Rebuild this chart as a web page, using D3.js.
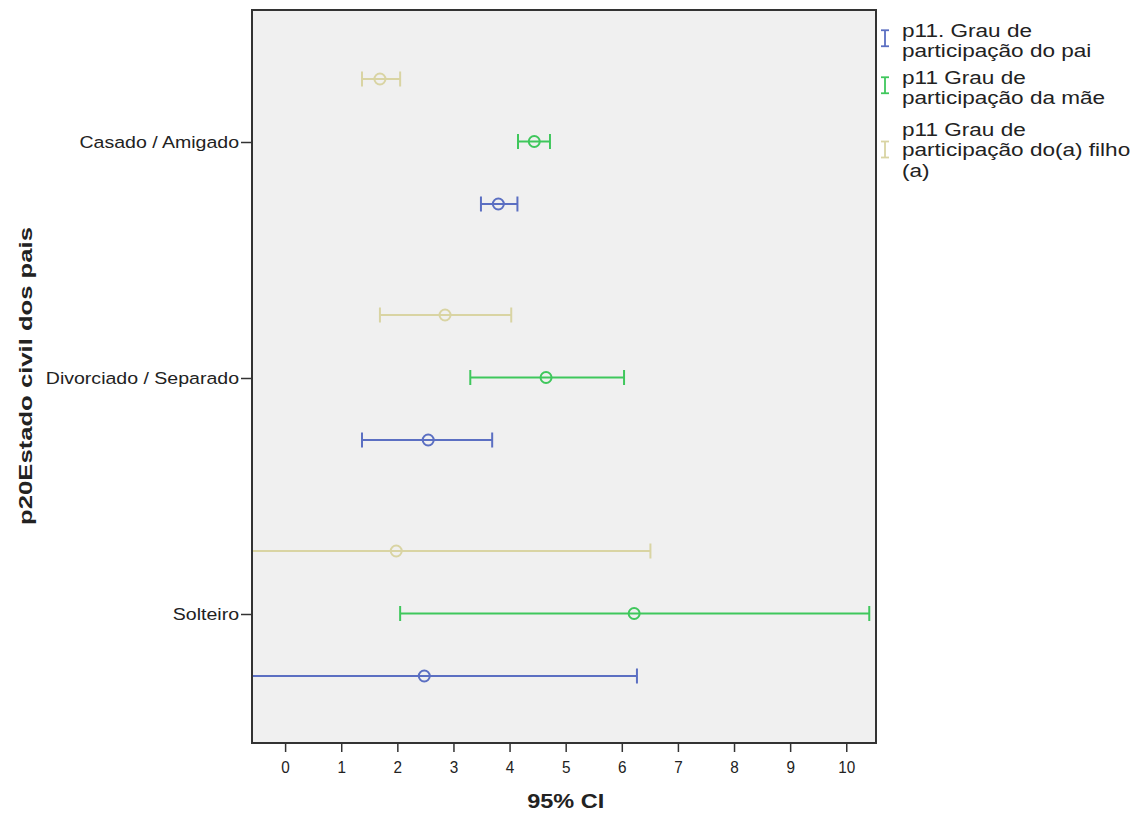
<!DOCTYPE html>
<html>
<head>
<meta charset="utf-8">
<script src="https://cdn.jsdelivr.net/npm/d3@7"></script>
<style>
  body { margin: 0; background: #fff; }
  text { font-family: Arial, "Liberation Sans", sans-serif; fill: #222; }
</style>
</head>
<body>
<div id="chart"></div>
<script>
// categories and series
const categories = ['Casado / Amigado', 'Divorciado / Separado', 'Solteiro'];
const seriesNames = ['filho', 'mae', 'pai'];           // top -> bottom inside each group
const legendLabels = [
  ['p11. Grau de', 'participação do pai'],
  ['p11 Grau de', 'participação da mãe'],
  ['p11 Grau de', 'participação do(a) filho', '(a)']
];
const legendKeys = ['pai', 'mae', 'filho'];
const colors = { pai: '#5b6fc2', mae: '#3fc75c', filho: '#d9d4a3' };

const meanPai   = [3.80, 2.55, 2.48];
const lowPai    = [3.49, 1.37, -1.31];
const highPai   = [4.14, 3.69, 6.27];
const meanMae   = [4.44, 4.65, 6.22];
const lowMae    = [4.15, 3.30, 2.05];
const highMae   = [4.72, 6.04, 10.41];
const meanFilho = [1.69, 2.85, 1.98];
const lowFilho  = [1.37, 1.69, -2.55];
const highFilho = [2.05, 4.03, 6.51];

const xTicks = [0, 1, 2, 3, 4, 5, 6, 7, 8, 9, 10];

const rows = [];
categories.forEach((c, i) => {
  rows.push({ cat: c, s: 'pai',   mean: meanPai[i],   lo: lowPai[i],   hi: highPai[i] });
  rows.push({ cat: c, s: 'mae',   mean: meanMae[i],   lo: lowMae[i],   hi: highMae[i] });
  rows.push({ cat: c, s: 'filho', mean: meanFilho[i], lo: lowFilho[i], hi: highFilho[i] });
});

const W = 1148, H = 814;
const plot = { left: 252, top: 10, right: 876, bottom: 743 };
const pw = plot.right - plot.left, ph = plot.bottom - plot.top;
const FONT = 'Arial, "Liberation Sans", sans-serif';

const svg = d3.select('#chart').append('svg')
  .attr('width', W).attr('height', H);

const g = svg.append('g').attr('transform', `translate(${plot.left},${plot.top})`);

g.append('defs').append('clipPath').attr('id', 'clip')
  .append('rect').attr('width', pw).attr('height', ph);

const x = d3.scaleLinear().domain([-0.59, 10.53]).range([0, pw]);
const y = d3.scalePoint().domain(categories).range([132, 604]);
const sub = d3.scalePoint().domain(seriesNames).range([-63, 62]);

g.append('rect')
  .attr('width', pw).attr('height', ph)
  .attr('fill', '#f0f0f0');

const marks = g.append('g').attr('clip-path', 'url(#clip)');
const bar = marks.selectAll('g.bar').data(rows).join('g')
  .attr('class', 'bar')
  .attr('transform', d => `translate(0,${y(d.cat) + sub(d.s)})`)
  .attr('stroke', d => colors[d.s])
  .attr('stroke-width', 2)
  .attr('fill', 'none');

bar.append('line')
  .attr('x1', d => x(d.lo)).attr('x2', d => x(d.hi));
bar.append('line')
  .attr('x1', d => x(d.lo)).attr('x2', d => x(d.lo))
  .attr('y1', -7.5).attr('y2', 7.5);
bar.append('line')
  .attr('x1', d => x(d.hi)).attr('x2', d => x(d.hi))
  .attr('y1', -7.5).attr('y2', 7.5);
bar.append('circle')
  .attr('cx', d => x(d.mean)).attr('r', 5.5);

// frame
g.append('rect')
  .attr('width', pw).attr('height', ph)
  .attr('fill', 'none').attr('stroke', '#333').attr('stroke-width', 2);

// axes
const xAxis = g.append('g')
  .attr('transform', `translate(0,${ph})`)
  .call(d3.axisBottom(x).tickValues(xTicks).tickSize(9).tickPadding(9));
xAxis.select('.domain').remove();
xAxis.selectAll('line').attr('stroke', '#333').attr('stroke-width', 1.5);
xAxis.selectAll('text').attr('font-size', 17).attr('fill', '#333')
  .attr('transform', 'scale(0.9,1)')
  .style('font-family', FONT);

const ySx = 1.15;
const yAxis = g.append('g')
  .call(d3.axisLeft(y).tickSize(11).tickPadding(2));
yAxis.select('.domain').remove();
yAxis.selectAll('line').attr('stroke', '#333').attr('stroke-width', 1.5);
yAxis.selectAll('text').attr('font-size', 17).attr('fill', '#333')
  .attr('x', -13 / ySx)
  .attr('transform', `scale(${ySx},1)`)
  .style('font-family', FONT);

// axis titles
svg.append('text')
  .attr('transform', `translate(${plot.left + x(5)},808) scale(1.12,1)`)
  .attr('text-anchor', 'middle')
  .attr('font-size', 21).attr('font-weight', 'bold')
  .text('95% CI');

svg.append('text')
  .attr('transform', `translate(32,${plot.top + 366}) rotate(-90) scale(1.35,1)`)
  .attr('text-anchor', 'middle')
  .attr('font-size', 19).attr('font-weight', 'bold')
  .text('p20Estado civil dos pais');

// legend
const leg = svg.append('g').attr('transform', 'translate(885,0)');
const entryTop = [30, 77, 129];
const lineH = 20.5;
legendKeys.forEach((k, i) => {
  const lines = legendLabels[i];
  const top = entryTop[i];
  const iconY = k === 'filho' ? top + lineH : top + lineH / 2 - 2;
  const ic = leg.append('g').attr('stroke', colors[k]).attr('stroke-width', 1.8);
  ic.append('line').attr('x1', 0).attr('x2', 0).attr('y1', iconY - 8).attr('y2', iconY + 8);
  ic.append('line').attr('x1', -4).attr('x2', 4).attr('y1', iconY - 8).attr('y2', iconY - 8);
  ic.append('line').attr('x1', -4).attr('x2', 4).attr('y1', iconY + 8).attr('y2', iconY + 8);
  lines.forEach((t, j) => {
    leg.append('text')
      .attr('transform', `translate(17,${top + j * lineH + 6.5}) scale(1.22,1)`)
      .attr('font-size', 18.5).attr('fill', '#222')
      .text(t);
  });
});
</script>
</body>
</html>
